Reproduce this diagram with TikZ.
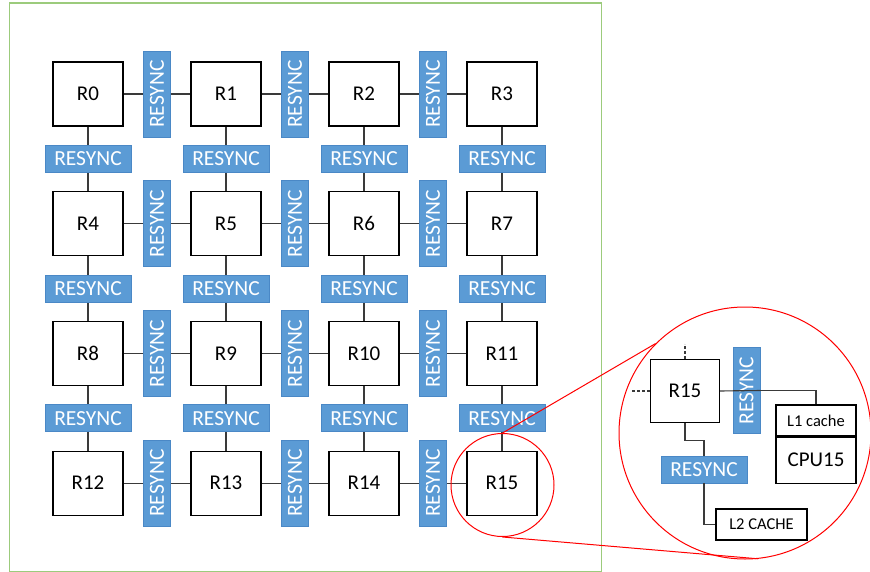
\documentclass[tikz,border=0pt]{standalone}
\usepackage{fontspec}
\setmainfont{Carlito}
\usepackage{tikz}
\usetikzlibrary{positioning,backgrounds,calc}
\definecolor{FrameGreen}{HTML}{9CCB7C}
\definecolor{ResyncBlue}{HTML}{5B9BD5}
\definecolor{ResyncEdge}{HTML}{4A88C6}
\definecolor{WireGray}{HTML}{3A3A3A}
\definecolor{LensRed}{HTML}{FF0000}

\begin{document}
\begin{tikzpicture}[
  x=1pt, y=-1pt,
  router/.style={
    draw=black,
    line width=1.2pt,
    fill=white,
    minimum width=70pt,
    minimum height=64pt,
    inner sep=0pt,
    font=\fontsize{21}{24}\selectfont
  },
  resync/.style={
    draw=ResyncEdge,
    line width=0.8pt,
    fill=ResyncBlue,
    text=white,
    minimum width=86pt,
    minimum height=27pt,
    inner sep=0pt,
    font=\fontsize{21.5}{24}\selectfont
  },
  vresync/.style={
    resync,
    rotate=90
  },
  cachebox/.style={
    draw=black,
    line width=1.2pt,
    fill=white,
    minimum width=80pt,
    inner sep=0pt,
    font=\fontsize{16.5}{19}\selectfont
  },
  wire/.style={
    draw=WireGray,
    line width=1.1pt
  },
  lens/.style={
    draw=LensRed,
    line width=1pt,
    circle,
    inner sep=0pt
  }
]
\useasboundingbox (0,0) rectangle (870,572);

% Frame
\draw[FrameGreen, line width=1.4pt] (9.5,3) rectangle (601.5,571.5);

% Routers
\foreach \i in {0,...,15}{
  \pgfmathtruncatemacro{\col}{mod(\i,4)}
  \pgfmathtruncatemacro{\row}{div(\i,4)}
  \node[router] (R\i) at ({88+138*\col},{94+129.7*\row}) {R\i};
}

% Resync between columns
\foreach \row in {0,...,3}{
  \foreach \col in {0,1,2}{
    \pgfmathtruncatemacro{\a}{4*\row+\col}
    \pgfmathtruncatemacro{\b}{4*\row+\col+1}
    \node[vresync] (H\a) at ($(R\a)!0.5!(R\b)$) {RESYNC};
    \begin{scope}[on background layer]
      \draw[wire] (R\a) -- (R\b);
    \end{scope}
  }
}

% Resync between rows
\foreach \row in {0,1,2}{
  \foreach \col in {0,...,3}{
    \pgfmathtruncatemacro{\a}{4*\row+\col}
    \pgfmathtruncatemacro{\b}{4*\row+\col+4}
    \node[resync] (V\a) at ($(R\a)!0.5!(R\b)$) {RESYNC};
    \begin{scope}[on background layer]
      \draw[wire] (R\a) -- (R\b);
    \end{scope}
  }
}

% Zoomed view
\node[router, minimum width=69pt, minimum height=63pt]
  (zoomR15) at (685,391) {R15};
\node[vresync] (zoomV) at (746.5,390.5) {RESYNC};
\node[resync] (zoomH) at (704,469.5) {RESYNC};
\node[cachebox, minimum height=31pt] (l1) at (816,420.5) {L1 cache};
\node[cachebox, minimum height=46pt, font=\fontsize{21}{24}\selectfont,
  below=0pt of l1] (cpu) {CPU15};
\node[cachebox, minimum width=91pt, minimum height=31pt]
  (l2) at (761.5,524.5) {L2 CACHE};

\coordinate[above=15pt of zoomR15] (stubN);
\coordinate[left=18pt of zoomR15] (stubW);
\draw[wire, dash pattern=on 3pt off 2pt] (zoomR15.north) -- (stubN);
\draw[wire, dash pattern=on 3pt off 2pt] (zoomR15.west) -- (stubW);

\draw[wire] (zoomR15.east) -- (zoomV.south);
\draw[wire] (zoomV.north) -| (l1.north);
\draw[wire] (zoomR15.south) -- ++(0,17) -| (zoomH.north);
\draw[wire] (zoomH.south) |- (l2.west);

% Lenses
\node[lens, minimum size=103pt] (small) at (502.5,485) {};
\node[lens, minimum size=252pt] (big) at (745,433) {};
\draw[LensRed, line width=1pt] (small.north) -- (big.135);
\draw[LensRed, line width=1pt] (small.south) -- (big.-84);

\end{tikzpicture}
\end{document}
